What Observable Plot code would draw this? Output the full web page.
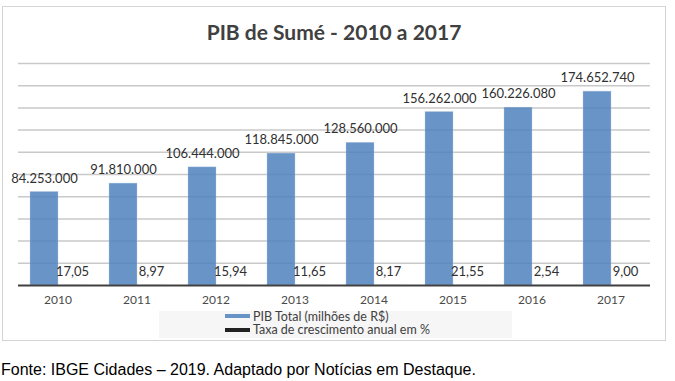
<!DOCTYPE html>
<html>
<head>
<meta charset="utf-8">
<script src="https://cdn.jsdelivr.net/npm/d3@7"></script>
<script src="https://cdn.jsdelivr.net/npm/@observablehq/plot@0.6"></script>
<style>
  html, body { margin: 0; padding: 0; background: #fff; }
  #page { position: relative; width: 675px; height: 381px; overflow: hidden; font-family: Lato, sans-serif; }
  #frame { position: absolute; left: 2px; top: 6px; width: 664px; height: 335px; border: 1.5px solid #d4d4d4; box-sizing: border-box; }
  #title { position: absolute; left: 2px; width: 664px; top: 18px; text-align: center; font-family: Lato, sans-serif; font-weight: bold; font-size: 21px; line-height: 28px; color: #404040; }
  #chart { position: absolute; left: 0; top: 40px; }
  #legend { position: absolute; left: 159px; top: 311px; width: 353px; height: 27px; background: #f6f6f6; }
  .item { position: absolute; left: 66px; font-size: 12.5px; line-height: 14px; color: #404040; white-space: nowrap; }
  .sw { display: inline-block; width: 25px; height: 4px; margin-right: 3px; vertical-align: middle; position: relative; top: -1px; }
  #caption { position: absolute; left: 1px; top: 361px; font-family: "Liberation Sans", Arial, sans-serif; font-size: 16px; line-height: 18px; color: #000; white-space: nowrap; }
</style>
</head>
<body>
<div id="page">
  <div id="frame"></div>
  <div id="title">PIB de Sumé - 2010 a 2017</div>
  <div id="chart"></div>
  <div id="legend"></div>
  <div id="caption">Fonte: IBGE Cidades – 2019. Adaptado por Notícias em Destaque.</div>
</div>
<script>
// ---- data ----
const years = ["2010", "2011", "2012", "2013", "2014", "2015", "2016", "2017"];
const pibTotal = [84253000, 91810000, 106444000, 118845000, 128560000, 156262000, 160226080, 174652740];
const taxaCrescimento = [17.05, 8.97, 15.94, 11.65, 8.17, 21.55, 2.54, 9.00];
const seriesNames = ["PIB Total (milhões de R$)", "Taxa de crescimento anual em %"];
const seriesColors = ["#4f81bd", "#222222"];
const gridValues = [0, 20e6, 40e6, 60e6, 80e6, 100e6, 120e6, 140e6, 160e6, 180e6, 200e6];

// ---- build table ----
const rows = [];
years.forEach((y, i) => {
  rows.push({year: y, series: seriesNames[0], value: pibTotal[i]});
  rows.push({year: y, series: seriesNames[1], value: taxaCrescimento[i]});
});

const locale = d3.formatLocale({decimal: ",", thousands: ".", grouping: [3], currency: ["R$", ""]});
const fmtInt = locale.format(",d");
const fmtPct = locale.format(",.2f");
const label = d => d.series === seriesNames[0] ? fmtInt(d.value) : fmtPct(d.value);

const chart = Plot.plot({
  width: 675,
  height: 275,
  marginLeft: 16,
  marginRight: 24,
  marginTop: 23,
  marginBottom: 30,
  style: {fontFamily: "Lato, sans-serif", fontSize: "12px", color: "#4a4a4a", background: "transparent"},
  fx: {domain: years, padding: 0, axis: "bottom", tickSize: 0, tickPadding: 10, label: null},
  x: {domain: seriesNames, paddingInner: 0, paddingOuter: 0.403, axis: null},
  y: {domain: [0, 200e6], axis: null},
  color: {domain: seriesNames, range: seriesColors},
  marks: [
    Plot.ruleY(gridValues.slice(1), {stroke: "#c9c9c9", strokeWidth: 1.5}),
    Plot.barY(rows, {fx: "year", x: "series", y: "value", fill: "series", fillOpacity: 0.85, stroke: "#b8cce4", strokeWidth: 0.6, strokeOpacity: 0.6}),
    Plot.ruleY([0], {stroke: "#404040", strokeWidth: 2}),
    Plot.text(rows, {fx: "year", x: "series", y: "value", text: label, dy: -13.5, fill: "#303030", fontSize: 13})
  ]
});
document.getElementById("chart").appendChild(chart);

// ---- legend ----
const legend = document.getElementById("legend");
seriesNames.forEach((name, i) => {
  const div = document.createElement("div");
  div.className = "item";
  div.style.top = (i === 0 ? -1.5 : 12) + "px";
  const sw = document.createElement("span");
  sw.className = "sw";
  sw.style.background = seriesColors[i];
  sw.style.opacity = i === 0 ? 0.85 : 1;
  div.appendChild(sw);
  div.appendChild(document.createTextNode(name));
  legend.appendChild(div);
});
</script>
</body>
</html>
